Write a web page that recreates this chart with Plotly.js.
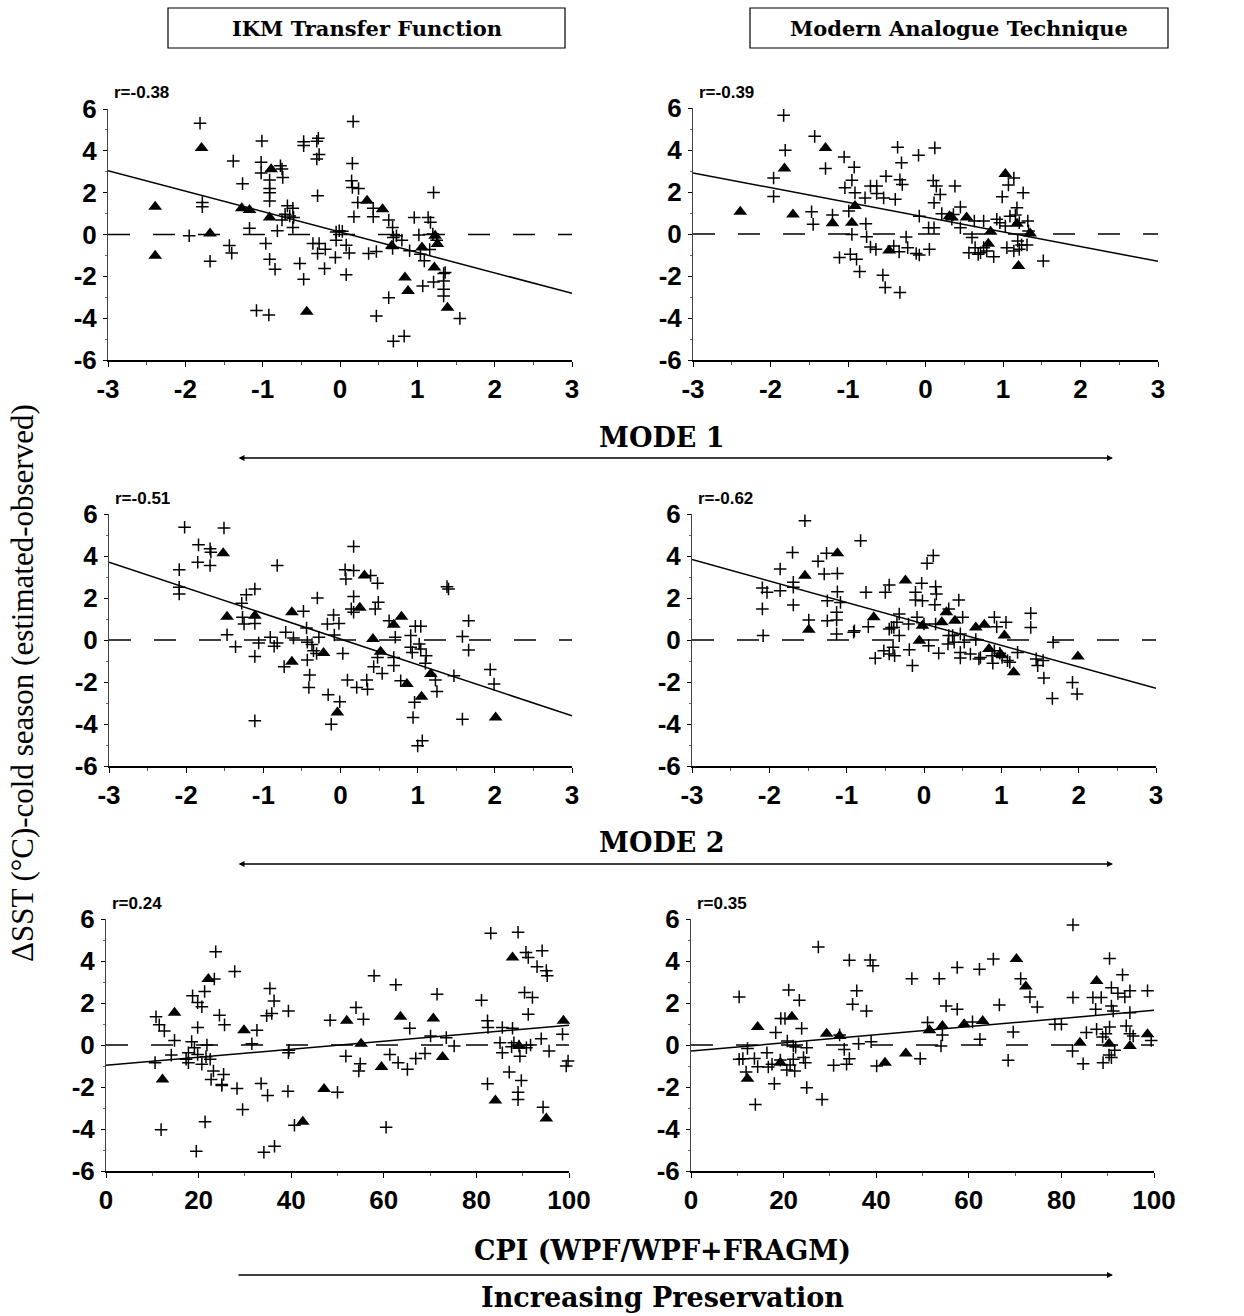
<!DOCTYPE html>
<html>
<head>
<meta charset="utf-8">
<script src="https://cdn.plot.ly/plotly-3.0.1.min.js"></script>
<style>html,body{margin:0;padding:0;background:#fff;}#chart{width:1244px;height:1316px;}</style>
</head>
<body>
<div id="chart"></div>
<script>
// ---------------- DATA ----------------
const columnTitles = ["IKM Transfer Function", "Modern Analogue Technique"];
const rowTitles = ["MODE 1", "MODE 2", "CPI (WPF/WPF+FRAGM)"];
const bottomNote = "Increasing Preservation";
const yTitle = "ΔSST (°C)-cold season (estimated-observed)";
const rLabels = ["r=-0.38", "r=-0.39", "r=-0.51", "r=-0.62", "r=0.24", "r=0.35"];

const modeTicks = [-3, -2, -1, 0, 1, 2, 3];
const cpiTicks = [0, 20, 40, 60, 80, 100];
const yTicks = [-6, -4, -2, 0, 2, 4, 6];
const modeRange = [-3, 3];
const cpiRange = [0, 100];
const zeroY = [0, 0];

// Panel 1: Mode 1, IKM
const p1PlusX = [-1.81,-1.78,-1.78,-1.95,-1.68,-1.38,-1.26,-1.43,-1.40,-1.17,-1.01,-1.02,-1.02,-0.91,-0.91,-0.91,-0.91,-0.96,-0.91,-0.84,-0.77,-0.75,-0.74,-0.68,-0.61,-0.71,-0.65,-0.60,-0.75,-0.81,-0.61,-1.08,-0.92,-0.52,-0.47,-0.47,-0.47,-0.30,-0.28,-0.27,-0.30,-0.29,-0.35,-0.27,-0.29,-0.19,-0.20,-0.06,-0.05,-0.01,0.08,0.12,0.08,0.17,0.16,0.15,0.16,0.24,0.23,0.18,0.43,0.43,0.37,0.47,0.47,0.63,0.68,0.69,0.68,0.73,0.80,0.63,0.69,0.83,0.90,0.96,1.02,1.04,1.09,1.07,1.14,1.17,1.21,1.20,1.21,1.34,1.34,1.34,1.34,1.36,1.55,1.25,1.16,-0.05,0.03];
const p1PlusY = [5.32,1.53,1.33,-0.06,-1.28,3.51,2.43,-0.53,-0.89,0.30,4.47,3.45,2.94,2.60,2.20,2.00,1.60,-0.43,-1.18,-1.66,3.29,3.13,2.73,1.37,1.25,0.97,0.89,0.81,0.69,0.18,0.34,-3.63,-3.85,-1.39,-2.14,4.44,4.25,4.46,4.60,3.82,3.61,1.85,-0.43,-0.43,-0.91,-0.70,-1.63,-1.10,-0.27,0.18,-0.51,-0.89,-1.92,5.40,3.40,2.57,2.25,2.20,1.53,0.85,1.25,0.85,-0.91,-0.81,-3.90,0.69,0.34,-0.14,-0.67,-0.06,-0.27,-3.02,-5.10,-4.86,-0.78,0.81,-0.02,-0.94,-1.26,-2.46,0.81,0.58,2.01,0.02,-2.27,-1.87,-2.22,-2.62,-2.94,-1.82,-4.01,-0.27,-0.72,0.12,0.15];
const p1TriX = [-2.39,-2.39,-1.79,-1.68,-1.27,-1.17,-0.89,-0.91,-0.43,0.35,0.55,0.84,0.88,1.06,1.22,1.23,1.26,1.39,0.67];
const p1TriY = [1.33,-1.02,4.14,0.05,1.25,1.17,3.12,0.81,-3.69,1.61,1.21,-2.06,-2.70,-0.62,-1.58,-0.06,-0.46,-3.50,-0.54];
const p1FitX = [-3, 3];
const p1FitY = [3.05, -2.81];

// Panel 2: Mode 1, MAT
const p2PlusX = [-1.83,-1.81,-1.96,-1.96,-1.43,-1.29,-1.47,-1.45,-1.20,-1.11,-1.05,-1.04,-0.99,-0.95,-0.92,-0.91,-0.95,-0.97,-0.89,-0.85,-0.78,-0.77,-0.76,-0.71,-0.71,-0.63,-0.63,-0.64,-0.54,-0.51,-0.55,-0.52,-0.39,-0.41,-0.36,-0.31,-0.33,-0.30,-0.34,-0.33,-0.25,-0.23,-0.09,-0.08,-0.12,-0.08,0.04,0.05,0.11,0.12,0.10,0.14,0.11,0.19,0.21,0.38,0.36,0.45,0.45,0.34,0.56,0.60,0.63,0.64,0.68,0.71,0.75,0.75,0.79,0.88,0.92,0.96,0.99,1.03,1.05,1.07,1.09,1.14,1.16,1.14,1.18,1.19,1.21,1.21,1.26,1.24,1.32,1.31,1.33,1.52];
const p2PlusY = [5.65,3.99,2.67,1.79,4.65,3.12,1.06,0.46,0.90,-1.12,3.67,2.20,1.09,2.56,3.18,1.96,-0.02,-0.97,-1.20,-1.79,1.72,0.49,-0.13,2.28,-0.62,2.28,1.93,-0.73,1.72,2.75,-1.96,-2.55,1.65,-0.57,4.13,3.39,2.58,2.36,-0.85,-2.78,-0.14,-0.65,3.75,0.85,-0.93,-1.00,0.30,-0.73,0.30,4.10,2.55,2.28,1.49,1.88,0.97,2.28,0.93,1.28,0.30,0.70,-0.89,-0.17,0.62,-0.65,-0.97,-0.89,0.62,-0.65,-0.81,-1.08,0.70,0.54,1.77,0.38,-0.65,2.33,0.85,2.67,0.90,-0.81,1.25,-0.33,-0.73,0.54,1.96,-0.52,0.62,-0.52,0.14,-1.28];
const p2TriX = [-2.39,-1.82,-1.71,-1.29,-1.20,-0.95,-0.91,-0.47,0.31,0.34,0.53,0.84,0.81,1.03,1.20,1.35,1.18];
const p2TriY = [1.06,3.12,0.93,4.10,0.51,0.54,1.33,-0.78,0.85,0.78,0.78,0.11,-0.46,2.86,-1.52,0.02,0.49];
const p2FitX = [-3, 3];
const p2FitY = [2.91, -1.30];

// Panel 3: Mode 2, IKM
const p3PlusX = [-2.02,-1.51,-2.09,-2.09,-2.09,-1.84,-1.85,-1.69,-1.68,-1.69,-1.47,-1.36,-1.28,-1.27,-1.25,-1.22,-1.11,-1.11,-1.11,-1.06,-1.11,-0.91,-0.86,-0.82,-0.82,-0.73,-0.71,-0.61,-0.48,-0.44,-0.43,-0.43,-0.40,-0.41,-0.37,-0.35,-0.31,-0.30,-0.28,-0.17,-0.16,-0.12,-0.09,-0.08,-0.02,-0.01,0.03,0.09,0.06,0.07,0.17,0.17,0.17,0.14,0.17,0.21,0.34,0.35,0.39,0.48,0.45,0.49,0.43,0.48,0.54,0.63,0.71,0.69,0.69,0.78,0.91,0.91,0.93,0.97,1.04,1.02,1.04,0.96,0.94,1.00,1.06,1.11,1.10,1.23,1.25,1.38,1.40,1.47,1.58,1.66,1.66,1.58,1.94,1.99];
const p3PlusY = [5.37,5.33,3.35,2.51,2.19,4.53,3.70,4.34,4.18,3.55,0.25,-0.32,1.75,1.08,0.76,2.15,2.43,0.79,-0.78,-0.14,-3.85,0.13,-0.30,-0.14,3.55,-1.27,0.37,0.10,1.37,0.57,-0.11,-0.95,-1.67,-2.26,-0.22,-0.51,-0.64,2.00,0.13,0.76,-2.61,-4.01,1.19,0.24,0.79,-2.94,-0.64,-1.91,3.34,2.91,4.45,3.31,2.07,1.48,1.32,-2.26,-1.91,-2.34,3.07,2.70,1.48,1.80,-1.27,-0.83,-1.59,0.92,0.13,-0.83,-1.22,-1.94,0.21,-0.35,-0.59,0.65,0.65,-0.19,-0.43,-2.97,-3.69,-5.04,-4.80,-0.75,-1.11,-1.91,-2.45,2.54,2.43,-1.70,0.17,0.92,-0.48,-3.77,-1.41,-2.10];
const p3TriX = [-1.52,-1.47,-1.11,-0.63,-0.63,-0.22,-0.04,0.25,0.31,0.42,0.52,0.69,0.79,0.86,1.05,1.17,2.01];
const p3TriY = [4.13,1.11,1.16,1.32,-1.03,-0.62,-3.45,1.53,3.07,0.05,-0.56,0.73,1.11,-2.10,-2.70,-1.62,-3.69];
const p3FitX = [-3, 3];
const p3FitY = [3.70, -3.61];

// Panel 4: Mode 2, MAT
const p4PlusX = [-1.54,-1.70,-1.26,-1.37,-1.86,-1.29,-1.12,-1.69,-1.69,-2.09,-2.03,-1.86,-1.25,-1.12,-1.08,-2.09,-1.69,-1.13,-1.25,-1.13,-1.49,-2.08,-1.13,-0.82,-0.75,-0.72,-0.90,-0.91,-0.63,-0.50,-0.45,-0.52,-0.45,-0.42,-0.40,-0.38,-0.45,-0.39,-0.32,-0.32,-0.35,-0.20,-0.19,-0.15,-0.11,-0.11,-0.09,-0.03,-0.02,0.00,0.04,0.12,0.06,0.15,0.16,0.14,0.15,0.19,0.32,0.32,0.31,0.37,0.39,0.45,0.50,0.47,0.52,0.47,0.47,0.60,0.67,0.71,0.73,0.91,0.94,1.06,0.91,0.88,0.89,0.98,1.01,1.08,1.11,1.21,1.38,1.38,1.45,1.47,1.54,1.55,1.67,1.66,1.92,1.98];
const p4PlusY = [5.68,4.17,4.13,3.75,3.38,3.14,3.17,2.75,2.51,2.48,2.27,2.35,1.87,2.30,1.79,1.48,1.67,1.32,0.92,0.95,0.95,0.21,0.29,4.73,2.27,0.63,0.44,0.37,-0.87,2.27,2.62,-0.51,0.52,0.60,-0.35,-0.75,-0.67,0.60,1.24,0.21,0.84,0.76,-0.46,-1.22,2.27,1.90,1.08,2.70,1.87,0.76,3.65,4.02,-0.27,2.54,2.19,1.68,0.76,-0.63,1.48,0.21,-0.19,0.21,-0.11,1.90,1.08,0.29,-0.11,-0.59,-0.86,-0.67,0.02,-0.90,-0.83,1.08,0.63,0.84,-0.51,-0.75,-1.11,-0.63,-0.83,-0.98,-1.06,-0.59,1.27,0.60,-0.90,-1.22,-0.98,-1.81,-0.11,-2.78,-2.02,-2.57];
const p4TriX = [-1.54,-1.49,-1.12,-0.65,-0.24,-0.06,-0.02,0.23,0.29,0.40,0.67,0.78,0.84,0.99,1.04,1.16,1.99];
const p4TriY = [3.06,0.49,4.13,1.08,2.83,-0.03,0.68,0.84,1.32,0.92,0.60,0.73,-0.43,-0.67,0.21,-1.54,-0.79];
const p4FitX = [-3, 3];
const p4FitY = [3.83, -2.30];

// Panel 5: CPI, IKM
const p5PlusX = [10.8,10.6,11.5,12.6,11.9,14.8,14.1,17.3,17.8,17.8,18.5,18.7,19.1,19.8,19.8,20.7,19.8,20.7,21.3,21.8,21.4,19.5,21.6,22.5,22.7,23.2,23.4,23.7,24.5,25.0,25.4,25.6,25.0,27.8,28.3,29.5,31.5,32.6,33.5,34.1,34.7,34.9,35.4,35.8,36.3,36.4,39.4,39.5,39.4,39.3,40.7,48.4,50.0,51.8,54.0,54.9,54.6,55.6,57.9,61.3,60.5,62.6,63.1,65.1,65.6,66.9,68.9,70.1,71.5,73.5,75.2,81.1,82.4,82.5,82.4,83.1,85.1,85.6,85.6,87.1,87.8,88.1,87.6,89.0,89.2,89.4,89.0,89.0,89.7,90.4,90.7,91.2,91.2,90.8,91.7,92.1,93.1,94.2,94.0,94.4,95.1,95.3,95.7,98.6,99.8,99.4];
const p5PlusY = [1.34,-0.84,0.96,0.67,-4.03,0.22,-0.48,-0.68,-0.84,-0.37,0.16,2.34,-0.13,0.83,2.02,1.82,-0.45,-0.92,2.55,0.00,-3.66,-5.06,-0.56,-0.68,-1.64,-1.24,3.14,4.44,1.42,-1.88,-1.40,0.96,-1.93,3.50,-2.07,-3.07,0.06,0.70,-1.83,-5.11,1.39,-2.40,2.69,1.50,2.10,-4.82,1.62,-0.25,-0.37,-2.20,-3.82,1.18,-2.25,-0.53,1.78,-0.89,-1.24,1.23,3.30,-0.45,-3.92,2.87,-0.84,-1.16,0.80,-0.64,-0.40,0.43,2.42,0.35,-0.05,2.13,1.15,0.83,-1.85,5.32,0.11,-0.37,0.83,-1.29,0.80,0.11,-0.08,5.37,-0.05,-0.53,-2.25,-2.60,-1.69,2.50,4.41,4.17,1.46,-0.13,0.00,2.26,3.73,4.49,0.30,-2.96,3.54,3.30,-0.29,0.51,-0.76,-1.00];
const p5TriX = [12.2,14.8,22.1,29.8,42.5,47.1,52.0,55.1,59.5,63.6,70.7,72.7,84.1,87.8,89.2,95.1,98.8];
const p5TriY = [-1.64,1.54,3.14,0.70,-3.66,-2.09,1.15,0.06,-1.05,1.34,1.26,-0.57,-2.64,4.17,-0.05,-3.50,1.15];
const p5FitX = [0, 100];
const p5FitY = [-0.96, 0.94];

// Panel 6: CPI, MAT
const p6PlusX = [10.4,10.4,11.2,12.2,11.9,13.9,13.7,14.4,16.4,18.3,16.7,17.5,18.0,19.4,20.3,19.3,21.1,20.8,20.7,21.4,22.1,22.4,22.1,22.6,23.4,23.9,24.3,24.7,25.0,25.0,27.5,28.3,30.8,32.1,33.1,33.6,34.2,34.2,34.9,35.8,36.2,37.9,38.7,39.3,38.9,40.1,47.7,49.5,51.1,53.6,54.0,54.3,55.1,57.5,57.5,60.8,62.3,62.4,65.3,66.6,68.5,69.6,71.2,73.2,74.8,78.6,80.0,82.5,82.5,82.4,84.7,85.4,86.8,87.6,87.4,88.6,88.9,89.0,89.6,90.4,90.8,90.8,91.2,90.4,90.3,90.8,91.5,92.2,93.2,93.7,94.0,94.8,94.8,94.8,95.5,98.6,99.4];
const p6PlusY = [2.29,-0.68,-0.65,-0.17,-1.29,-2.83,-0.64,-1.03,-0.37,0.59,-1.05,-0.92,-1.84,1.26,1.26,-0.72,2.62,0.19,-1.19,-0.95,-0.68,-1.24,-0.05,-0.10,2.13,0.79,-0.60,-0.84,-0.13,-2.03,4.67,-2.59,-0.97,0.48,-0.21,-0.92,4.04,-0.65,1.94,2.58,0.06,1.62,4.05,3.77,0.16,-1.00,3.16,-0.65,1.07,3.16,-0.05,0.48,1.86,1.70,3.69,1.10,3.61,0.27,4.09,1.91,-0.73,0.62,3.16,2.29,1.81,0.99,0.99,5.72,2.26,-0.29,-0.89,0.59,2.26,0.75,1.70,2.26,0.38,-0.84,0.54,4.12,2.73,1.86,1.62,0.86,-0.48,-0.60,-0.25,2.46,3.34,2.29,0.91,2.58,1.54,0.54,0.43,2.58,0.22];
const p6TriX = [12.2,14.4,19.3,21.8,29.3,32.1,41.9,46.4,51.5,54.3,59.0,63.0,70.3,72.3,84.0,87.6,90.3,94.8,98.6];
const p6TriY = [-1.61,0.86,-0.84,1.34,0.54,0.43,-0.84,-0.41,0.70,0.91,0.99,1.14,4.09,2.78,0.11,3.05,0.06,-0.05,0.51];
const p6FitX = [0, 100];
const p6FitY = [-0.29, 1.65];

// ---------------- BUILD ----------------
const W = 1244, H = 1316;
const px = v => v / W;
const py = v => 1 - v / H;

const panels = [
  {plusX:p1PlusX, plusY:p1PlusY, triX:p1TriX, triY:p1TriY, fitX:p1FitX, fitY:p1FitY, range:modeRange, ticks:modeTicks, minor:0.5, dom:[108,572,109,360]},
  {plusX:p2PlusX, plusY:p2PlusY, triX:p2TriX, triY:p2TriY, fitX:p2FitX, fitY:p2FitY, range:modeRange, ticks:modeTicks, minor:0.5, dom:[693,1158,108,360]},
  {plusX:p3PlusX, plusY:p3PlusY, triX:p3TriX, triY:p3TriY, fitX:p3FitX, fitY:p3FitY, range:modeRange, ticks:modeTicks, minor:0.5, dom:[109,572,514,766]},
  {plusX:p4PlusX, plusY:p4PlusY, triX:p4TriX, triY:p4TriY, fitX:p4FitX, fitY:p4FitY, range:modeRange, ticks:modeTicks, minor:0.5, dom:[692,1156,514,766]},
  {plusX:p5PlusX, plusY:p5PlusY, triX:p5TriX, triY:p5TriY, fitX:p5FitX, fitY:p5FitY, range:cpiRange, ticks:cpiTicks, minor:10, dom:[106,569,919,1171]},
  {plusX:p6PlusX, plusY:p6PlusY, triX:p6TriX, triY:p6TriY, fitX:p6FitX, fitY:p6FitY, range:cpiRange, ticks:cpiTicks, minor:10, dom:[691,1154,919,1171]}
];

const tickFont = {family:'Liberation Sans, Arial, sans-serif', size:26, weight:'bold', color:'#000'};
const data = [];
const layout = {
  width: W, height: H,
  margin: {l:0, r:0, t:0, b:0},
  paper_bgcolor: '#fff', plot_bgcolor: '#fff',
  showlegend: false,
  shapes: [], annotations: []
};

panels.forEach((p, i) => {
  const n = i + 1;
  const xa = 'x' + (n === 1 ? '' : n), ya = 'y' + (n === 1 ? '' : n);
  const xk = 'xaxis' + (n === 1 ? '' : n), yk = 'yaxis' + (n === 1 ? '' : n);
  layout[xk] = {
    domain: [px(p.dom[0]), px(p.dom[1])], anchor: ya, range: p.range,
    tickvals: p.ticks, ticktext: p.ticks.map(String),
    showgrid:false, zeroline:false, showline:true, linecolor:'#000', linewidth:2,
    ticks:'outside', ticklen:5, tickwidth:1, tickcolor:'#000',
    minor:{dtick:p.minor, tick0:p.range[0], ticks:'outside', ticklen:3, tickwidth:1, tickcolor:'#555', showgrid:false},
    tickfont: tickFont, ticklabelstandoff: 0, fixedrange:true
  };
  layout[yk] = {
    domain: [py(p.dom[3]), py(p.dom[2])], anchor: xa, range: [-6, 6],
    tickvals: yTicks, ticktext: yTicks.map(String),
    showgrid:false, zeroline:false, showline:true, linecolor:'#444', linewidth:1,
    ticks:'outside', ticklen:4, tickwidth:1, tickcolor:'#000',
    minor:{dtick:1, ticks:'outside', ticklen:2, tickwidth:1, tickcolor:'#666', showgrid:false},
    tickfont: tickFont, ticklabelstandoff: 1, fixedrange:true
  };
  data.push({type:'scatter', mode:'lines', x:p.range, y:zeroY, xaxis:xa, yaxis:ya,
    line:{color:'#000', width:1.5, dash:'22px,23px'}, hoverinfo:'skip'});
  data.push({type:'scatter', mode:'lines', x:p.fitX, y:p.fitY, xaxis:xa, yaxis:ya,
    line:{color:'#000', width:1.5}, hoverinfo:'skip'});
  data.push({type:'scatter', mode:'markers', x:p.plusX, y:p.plusY, xaxis:xa, yaxis:ya,
    marker:{symbol:'cross-thin', size:9, color:'#000', line:{color:'#000', width:1.5}}, cliponaxis:false});
  data.push({type:'scatter', mode:'markers', x:p.triX, y:p.triY, xaxis:xa, yaxis:ya,
    marker:{symbol:'triangle-up', size:12, color:'#000', line:{width:0}}, cliponaxis:false});
  layout.annotations.push({xref:'paper', yref:'paper', x:px(p.dom[0] + 4), y:py(p.dom[2] - 16),
    xanchor:'left', yanchor:'middle', showarrow:false, text:rLabels[i],
    font:{family:'Liberation Sans, Arial, sans-serif', size:17, weight:'bold', color:'#000'}});
});

// column header boxes
const boxes = [[168, 565, 8, 48], [750, 1168, 8, 48]];
boxes.forEach((b, i) => {
  layout.shapes.push({type:'rect', xref:'paper', yref:'paper', x0:px(b[0]), x1:px(b[1]), y0:py(b[3]), y1:py(b[2]),
    line:{color:'#000', width:1.2}, fillcolor:'rgba(0,0,0,0)'});
  layout.annotations.push({xref:'paper', yref:'paper', x:px((b[0]+b[1])/2), y:py((b[2]+b[3])/2),
    xanchor:'center', yanchor:'middle', showarrow:false, text:columnTitles[i],
    font:{family:'DejaVu Serif, serif', size:21, weight:'bold', color:'#000'}});
});

// row titles and arrows
const serifBig = {family:'DejaVu Serif, serif', size:27, weight:'bold', color:'#000'};
const rowTextY = [437, 842, 1250];
const arrowY = [458, 864, 1275];
rowTitles.forEach((t, i) => {
  layout.annotations.push({xref:'paper', yref:'paper', x:px(662), y:py(rowTextY[i]), xanchor:'center', yanchor:'middle',
    showarrow:false, text:t, font:serifBig});
  layout.annotations.push({xref:'paper', yref:'paper', x:px(1113), y:py(arrowY[i]), ax:-876, ay:0,
    axref:'pixel', ayref:'pixel', text:'', showarrow:true, arrowhead:2, arrowsize:0.8, arrowwidth:1.5,
    arrowcolor:'#000', arrowside: i < 2 ? 'end+start' : 'end', standoff:0, startstandoff:0});
});
layout.annotations.push({xref:'paper', yref:'paper', x:px(662), y:py(1297), xanchor:'center', yanchor:'middle',
  showarrow:false, text:bottomNote, font:serifBig});

// y-axis title
layout.annotations.push({xref:'paper', yref:'paper', x:px(22), y:py(683), xanchor:'center', yanchor:'middle',
  showarrow:false, text:yTitle, textangle:-90,
  font:{family:'Liberation Serif, Times New Roman, serif', size:31, color:'#000'}});

Plotly.newPlot('chart', data, layout, {staticPlot:true, displayModeBar:false});
</script>
</body>
</html>
